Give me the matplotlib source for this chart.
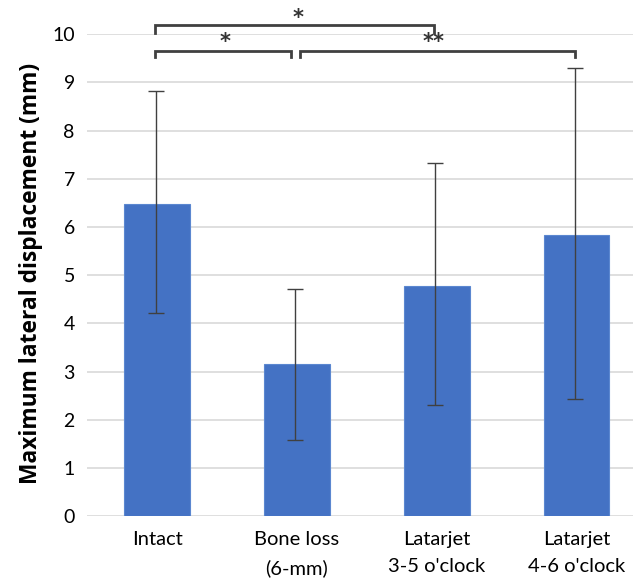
import numpy as np
from matplotlib import pyplot as plt

# data
groups = ['Intact', 'Bone loss\n(6-mm)', 'Latarjet\n3-5 o\'clock', 'Latarjet\n4-6 o\'clock']
means = [6.48, 3.15, 4.77, 5.83]
err_low = [4.22, 1.58, 2.30, 2.43]
err_high = [8.81, 4.72, 7.33, 9.30]

# significance brackets: x start, x end, bar height, tip depth, label, label x, label y
brackets = [
    (-0.013, 1.98, 10.19, 0.17, '*', 1.009, 10.34),
    (-0.013, 0.958, 9.65, 0.13, '*', 0.485, 9.83),
    (1.023, 2.99, 9.65, 0.13, '**', 1.974, 9.83),
]

fig = plt.figure(figsize=(6.33, 5.78), dpi=100)
ax = fig.add_axes([0.138, 0.107, 0.883, 0.834])

x = np.arange(len(groups))
lower = np.array(means) - np.array(err_low)
upper = np.array(err_high) - np.array(means)

ax.bar(x, means, width=0.47, color='#4472C4', edgecolor='#5B87D0', linewidth=0.8, zorder=2)
ax.errorbar(x - 0.012, means, yerr=[lower, upper], fmt='none', ecolor='#404040',
            elinewidth=1.0, capsize=5.5, capthick=1.0, zorder=3)

ax.set_xlim(-0.5, 3.5)
ax.set_ylim(0, 10)
ax.set_yticks(range(0, 11))
ax.yaxis.grid(True, color='#D9D9D9', linewidth=1.2, zorder=0)
ax.set_axisbelow(True)
for s in ax.spines.values():
    s.set_visible(False)
ax.tick_params(length=0, labelsize=14)
ax.tick_params(axis='y', pad=9)
ax.tick_params(axis='x', pad=11)
ax.set_xticks(x)
ax.set_xticklabels(groups, fontsize=14.5, family='Lato', linespacing=1.7)
for t in ax.get_yticklabels():
    t.set_family('Lato')

ax.set_ylabel('Maximum lateral displacement (mm)', fontsize=16.4, fontweight='bold',
              family='Open Sans')
ax.yaxis.set_label_coords(-0.079, 0.504)

# brackets
for xa, xb, h, tip, lab, lx, ly in brackets:
    ax.plot([xa, xa, xb, xb], [h - tip, h, h, h - tip], color='#404040', lw=2.0,
            clip_on=False, solid_joinstyle='miter', zorder=4)
    ax.text(lx, ly, lab, ha='center', va='center', fontsize=15, fontweight='bold',
            family='DejaVu Sans', color='#333333', clip_on=False)

fig.savefig('out.png', dpi=100)
